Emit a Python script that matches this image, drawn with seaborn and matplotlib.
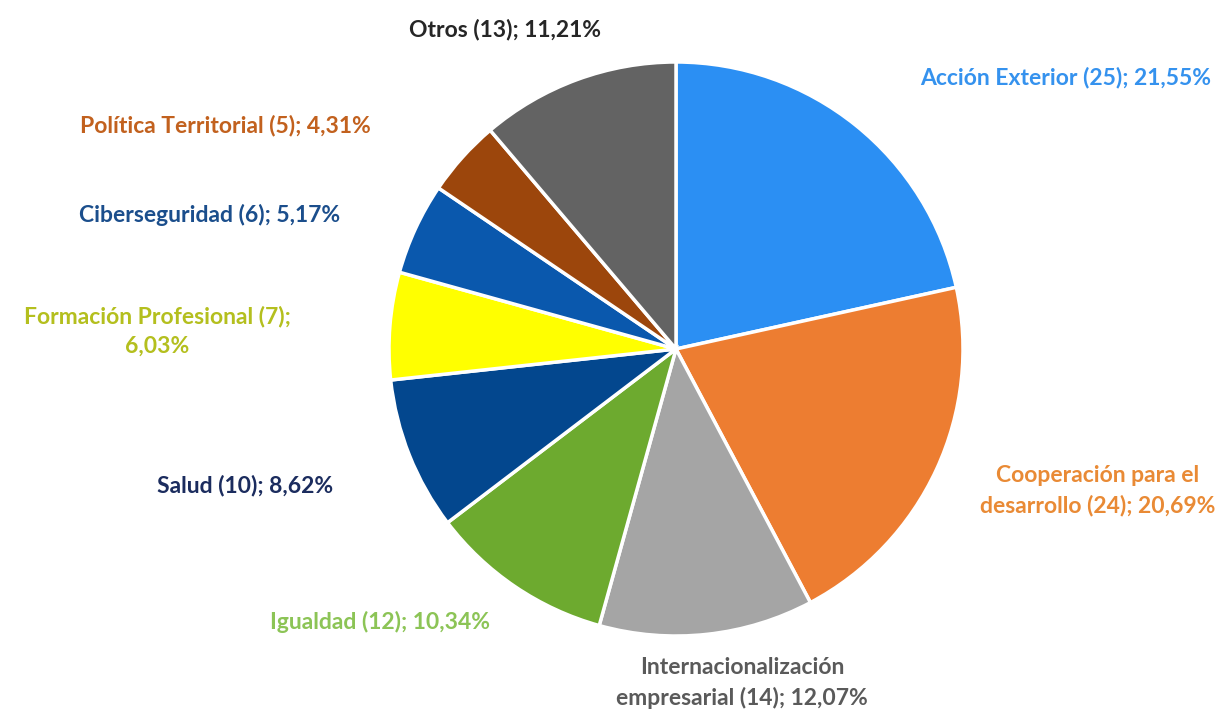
import matplotlib
matplotlib.use("Agg")
import matplotlib.pyplot as plt
import seaborn as sns

# data (Excel order, clockwise from 12 o'clock)
categorias = ["Acción Exterior", "Cooperación para el\ndesarrollo", "Internacionalización\nempresarial",
              "Igualdad", "Salud", "Formación Profesional", "Ciberseguridad",
              "Política Territorial", "Otros"]
valores = [25, 24, 14, 12, 10, 7, 6, 5, 13]
porcentajes = ["21,55%", "20,69%", "12,07%", "10,34%", "8,62%", "6,03%", "5,17%", "4,31%", "11,21%"]

colores = ["#2B8FF3", "#ED7D31", "#A5A5A5", "#6DAA2F", "#03478E", "#FFFF00", "#0A58AD", "#9C460C", "#636363"]
colores_texto = ["#3592EE", "#E98A35", "#5A5A5A", "#8CC456", "#1B2C5E", "#B4BF1E", "#1B4E8C", "#C2611E", "#262626"]

# label centres in pixels (image coords), placed by hand like the Excel chart
pos_etiquetas = [(1066, 77), (1098, 491), (742, 683), (380, 622), (245, 485),
                 (157, 331), (210, 215), (225, 125), (505, 30)]

sns.set_theme(style="white")
plt.rcParams["font.family"] = ["Lato", "DejaVu Sans"]

W, H = 1222, 709
cx, cy, r = 676, 349, 287

fig = plt.figure(figsize=(W / 100, H / 100), dpi=100)
ax = fig.add_axes([0, 0, 1, 1])
ax.pie(valores, colors=colores, startangle=90, counterclock=False, radius=1,
       wedgeprops=dict(edgecolor="white", linewidth=2.5))
ax.set_xlim(-cx / r, (W - cx) / r)
ax.set_ylim(-(H - cy) / r, cy / r)
ax.set_aspect("equal")
ax.axis("off")

for cat, v, p, c, (px, py) in zip(categorias, valores, porcentajes, colores_texto, pos_etiquetas):
    if "\n" in cat:
        a, b = cat.split("\n")
        txt = f"{a}\n{b} ({v}); {p}"
    elif cat == "Formación Profesional":
        txt = f"{cat} ({v});\n{p}"
    else:
        txt = f"{cat} ({v}); {p}"
    ax.text((px - cx) / r, (cy - py) / r, txt, color=c, fontsize=16.5, fontweight="bold",
            ha="center", va="center", linespacing=1.5)

fig.savefig("out.png", dpi=100, facecolor="white")
